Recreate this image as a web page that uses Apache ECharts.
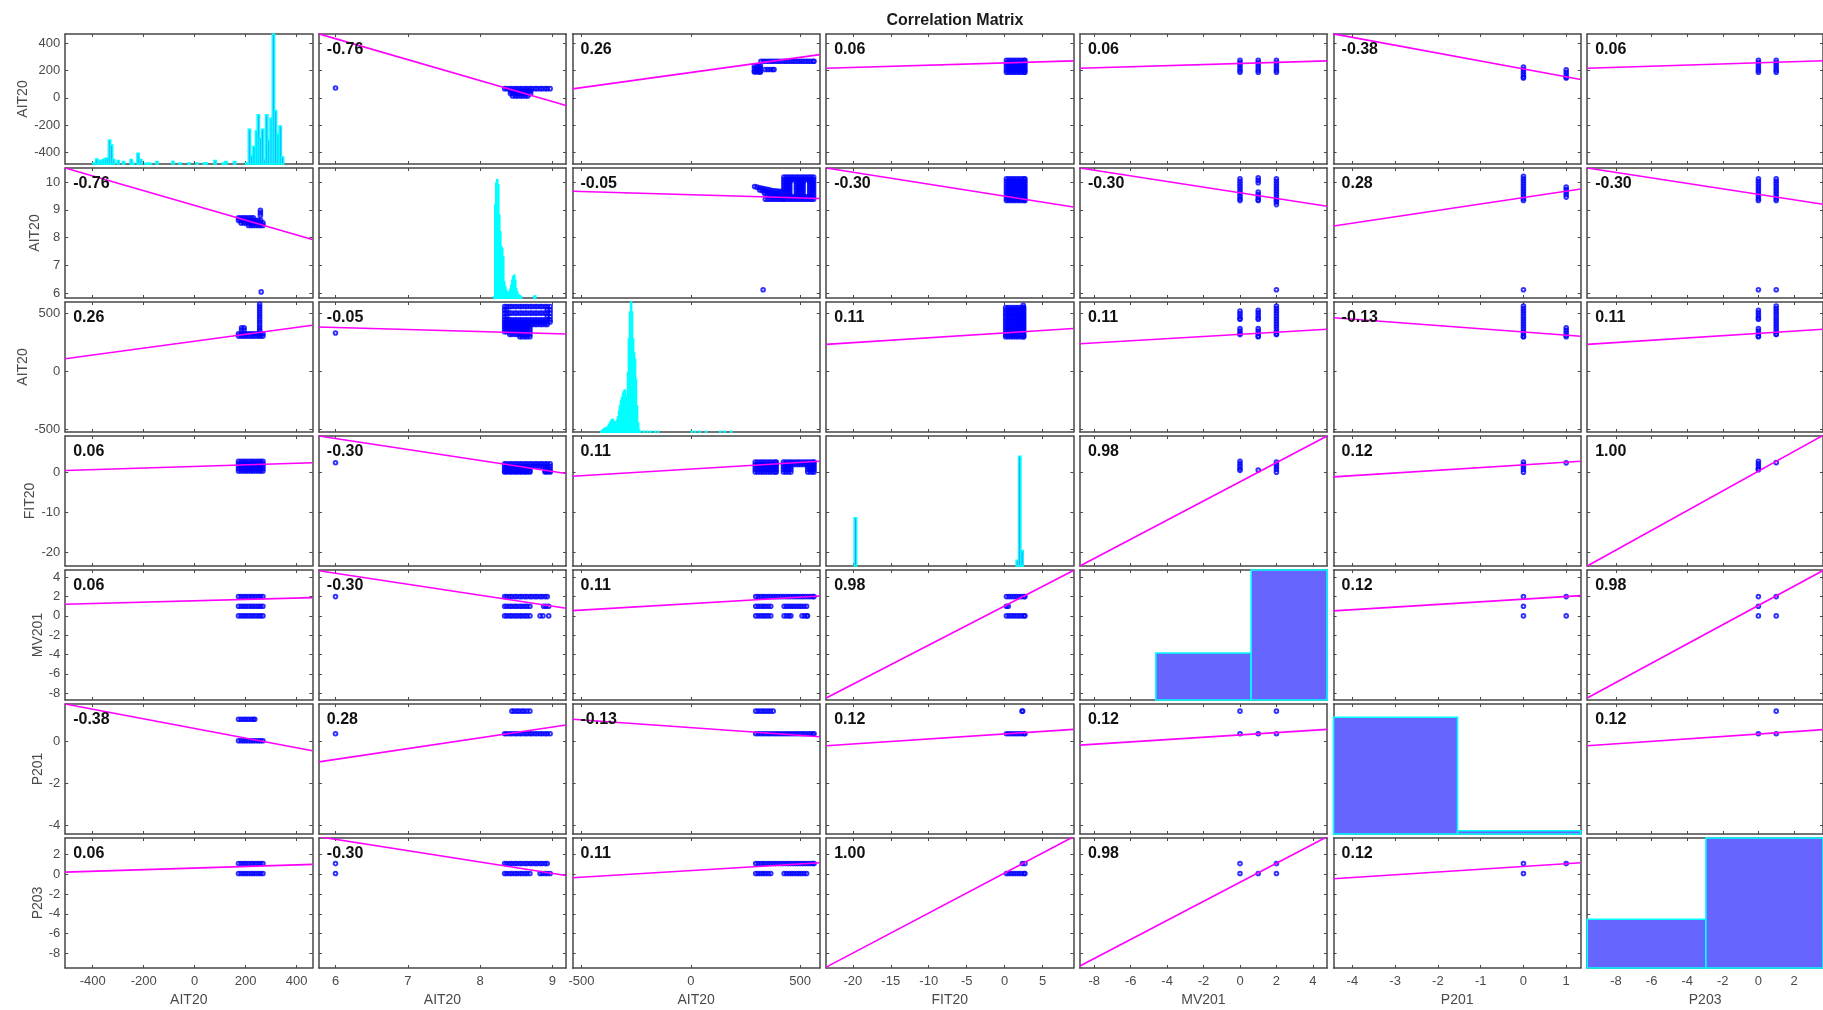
<!DOCTYPE html>
<html>
<head>
<meta charset="utf-8">
<title>Correlation Matrix</title>
<script src="https://cdn.jsdelivr.net/npm/echarts@6.0.0/dist/echarts.min.js"></script>
<style>
  html, body { margin: 0; padding: 0; background: #ffffff; }
  #chart { width: 1823px; height: 1010px; }
</style>
</head>
<body>
<div id="chart"></div>
<script>
// ---- variables, axis limits and ticks -------------------------------------
const varNames = ['AIT20', 'AIT20', 'AIT20', 'FIT20', 'MV201', 'P201', 'P203'];

const xLimits = [[-508, 462], [5.77, 9.19], [-541, 590], [-23.5, 9.05], [-8.79, 4.78], [-4.44, 1.34], [-9.62, 3.63]];
const yLimits = [[-482, 465], [5.82, 10.51], [-521, 600], [-23.4, 9.05], [-8.7, 4.75], [-4.4, 1.8], [-9.5, 3.7]];

const xTicks = [[-400, -200, 0, 200, 400], [6, 7, 8, 9], [-500, 0, 500], [-20, -15, -10, -5, 0, 5],
                [-8, -6, -4, -2, 0, 2, 4], [-4, -3, -2, -1, 0, 1], [-8, -6, -4, -2, 0, 2]];
const yTicks = [[-400, -200, 0, 200, 400], [6, 7, 8, 9, 10], [-500, 0, 500], [-20, -10, 0],
                [-8, -6, -4, -2, 0, 2, 4], [-4, -2, 0], [-8, -6, -4, -2, 0, 2]];

// ---- correlation coefficients ---------------------------------------------
const corrCoef = [
  [null, -0.76, 0.26, 0.06, 0.06, -0.38, 0.06],
  [-0.76, null, -0.05, -0.30, -0.30, 0.28, -0.30],
  [0.26, -0.05, null, 0.11, 0.11, -0.13, 0.11],
  [0.06, -0.30, 0.11, null, 0.98, 0.12, 1.00],
  [0.06, -0.30, 0.11, 0.98, null, 0.12, 0.98],
  [-0.38, 0.28, -0.13, 0.12, 0.12, null, 0.12],
  [0.06, -0.30, 0.11, 1.00, 0.98, 0.12, null]
];

// least-squares fit: y at the left and right x limit of each cell
const fitEnds = [
  [null, [466, -56], [65, 315], [215, 269], [215, 269], [466, 133], [215, 270]],
  [[10.51, 7.93], null, [9.67, 9.41], [10.51, 9.1], [10.51, 9.13], [8.42, 9.75], [10.51, 9.2]],
  [[110, 400], [385, 324], null, [235, 371], [240, 365], [464, 304], [235, 365]],
  [[0.43, 2.36], [9.05, -0.33], [-1.0, 2.76], null, [-23.4, 9.05], [-1.16, 2.76], [-23.4, 9.2]],
  [[1.2, 1.89], [4.67, 0.79], [0.55, 2.06], [-8.5, 4.7], null, [0.52, 2.1], [-8.5, 4.7]],
  [[1.8, -0.43], [-0.96, 0.8], [1.07, 0.24], [-0.19, 0.59], [-0.16, 0.59], null, [-0.19, 0.58]],
  [[0.23, 1.02], [3.83, -0.1], [-0.34, 1.18], [-9.41, 3.83], [-9.3, 3.83], [-0.44, 1.18], null]
];

// ---- histograms on the diagonal: [bin centre, count] ------------------------
const histAIT20a = [[-395, 3], [-384, 15], [-374, 10], [-366, 10], [-358, 13], [-350, 16], [-342, 18], [-334, 71],
  [-326, 56], [-318, 13], [-300, 10], [-279, 7], [-249, 13], [-241, 3], [-222, 32], [-211, 13], [-191, 2], [-183, 2],
  [-174, 2], [-148, 7], [-85, 7], [-57, 3], [-22, 3], [9, 3], [38, 3], [45, 3], [80, 10], [112, 3], [123, 7], [157, 7],
  [204, 3], [215, 103], [224, 25], [233, 52], [243, 98], [250, 146], [258, 78], [267, 103], [275, 13], [283, 146],
  [291, 71], [300, 136], [309, 386], [317, 158], [327, 88], [336, 113], [345, 21]];
const histAIT20b = [[8.197, 3], [8.211, 278], [8.225, 343], [8.238, 353], [8.252, 338], [8.266, 248], [8.280, 198],
  [8.294, 153], [8.307, 148], [8.321, 123], [8.335, 48], [8.349, 33], [8.363, 23], [8.376, 18], [8.390, 13],
  [8.404, 18], [8.418, 26], [8.432, 38], [8.445, 53], [8.459, 63], [8.473, 68], [8.487, 53], [8.501, 28],
  [8.514, 18], [8.528, 10], [8.542, 6], [8.556, 6], [8.570, 3], [8.749, 5], [8.763, 6]];
const histAIT20c = [[-410, 2], [-406, 4], [-401, 7], [-397, 9], [-392, 11], [-388, 12], [-383, 13], [-378, 17],
  [-374, 22], [-369, 27], [-365, 33], [-360, 37], [-356, 37], [-351, 31], [-347, 27], [-342, 30], [-337, 35],
  [-333, 45], [-328, 62], [-324, 77], [-319, 92], [-315, 102], [-310, 115], [-305, 122], [-301, 125], [-296, 107],
  [-292, 77], [-287, 177], [-283, 277], [-278, 357], [-273, 387], [-269, 357], [-264, 277], [-260, 237], [-255, 217],
  [-251, 157], [-246, 77], [-241, 27], [-237, 7], [-232, 2], [-215, 2], [-200, 2], [-185, 2], [-165, 2], [-150, 2],
  [5, 2], [20, 2], [40, 2], [70, 2], [135, 2], [155, 2], [185, 2]];
const histFIT20 = [[-19.66, 143], [1.67, 17], [1.98, 325], [2.29, 45]];
const histMV201 = [[-2.005, 36.1], [3.225, 100]];
const histP201 = [[-2.99, 89.8], [-0.09, 2.5]];
const histP203 = [[-6.285, 37.5], [0.385, 100]];
const histBinWidth = [8.6, 0.0138, 4.57, 0.31, 5.23, 2.9, 6.67];
const histCountTop = [386, 388, 387, 385, 100, 100, 100];

// ---- scatter samples ------------------------------------------------------
const row = (y, xs) => xs.map(x => [x, y]);
const col = (x, ys) => ys.map(y => [x, y]);

// spread of each variable along its dense band
const spreadAIT1 = [172, 182, 192, 201, 211, 221, 230, 240, 250, 259, 268];
const spreadAIT2 = [8.34, 8.37, 8.41, 8.44, 8.48, 8.51, 8.55, 8.58, 8.62, 8.65, 8.69, 8.72, 8.76, 8.79, 8.83, 8.86, 8.90, 8.93, 8.97];
const spreadAIT2lo = [8.34, 8.37, 8.41, 8.44, 8.48, 8.51, 8.55, 8.58, 8.62, 8.65, 8.69];
const spreadAIT3 = [297, 308, 320, 331, 342, 354, 365, 377, 388, 399, 411, 422, 434, 445, 456, 468, 479, 490, 502, 513, 524, 536, 547, 558, 564];
const spreadAIT3lo = [297, 308, 320, 331, 342, 354, 366];
const spreadAIT3hi = [427, 438, 450, 461, 472, 484, 495, 506, 518, 530];
const spreadFIT = [0.23, 0.56, 0.89, 1.22, 1.55, 1.88, 2.21, 2.54, 2.67];
const levelAIT1 = [273, 255, 237, 219, 201, 187];
const levelAIT2 = [10.12, 10.03, 9.94, 9.85, 9.76, 9.67, 9.58, 9.49, 9.40, 9.34];
const levelAIT3 = [566, 544, 522, 500, 478, 456, 434, 412, 390, 368, 346, 324, 320];
const loopFull = [426, 437, 449, 460, 471, 483, 494, 506, 517, 528, 540, 551, 562];
const loopSlit = [426, 437, 448, 453, 483, 494, 505, 514, 544, 555, 562];

const cell_1_2 = [
  ...row(67, spreadAIT2),
  ...row(49, [8.42, 8.45, 8.49, 8.52, 8.56, 8.59, 8.63, 8.66, 8.70]),
  ...row(31, [8.42, 8.45, 8.49, 8.52, 8.56, 8.59, 8.63, 8.66, 8.70]),
  ...row(13, [8.45, 8.49, 8.52, 8.56, 8.59, 8.63, 8.66]),
  [6.0, 72]
];
const cell_1_3 = [
  ...row(266, [321, 332, 343, 355, 366, 377, 389, 400, 411, 423, 434, 445, 457, 468, 479, 491, 502, 513, 525, 536, 547, 559, 564]),
  ...row(232, [291, 302, 313, 319]),
  ...row(214, [291, 302, 313, 319]),
  ...row(206, [341, 352, 364, 375, 381]),
  ...row(196, [291, 302, 313, 319]),
  ...row(188, [291, 302, 313, 319])
];
const cell_1_4 = levelAIT1.flatMap(y => row(y, spreadFIT));
const cell_1_5 = [...col(0, levelAIT1), ...col(1, levelAIT1), ...col(2, levelAIT1)];
const cell_1_6 = [...col(0, [224, 206, 188, 170, 152, 144]), ...col(1, [204, 186, 168, 150, 144])];
const cell_1_7 = [...col(0, levelAIT1), ...col(1, levelAIT1)];

const cell_2_1 = [
  ...row(8.71, [172, 182, 192, 201, 211, 221, 230]),
  ...row(8.62, [172, 182, 192, 201, 211, 221, 230, 240, 250, 259]),
  ...row(8.53, [182, 192, 201, 211, 221, 230, 240, 250, 259, 268]),
  ...row(8.44, [211, 221, 230, 240, 250, 259, 268]),
  ...col(258, [8.80, 8.89, 8.98]),
  [261, 6.04]
];
const cell_2_3 = [
  ...row(10.18, loopFull), ...row(10.09, loopFull),
  ...row(10.00, loopSlit), ...row(9.91, loopSlit), ...row(9.82, loopSlit),
  ...row(9.73, loopSlit), ...row(9.64, loopSlit), ...row(9.55, loopSlit),
  ...row(9.47, [364, 375, 386, 398, 409, 420, ...loopFull]),
  ...row(9.38, [341, 352, 364, 375, 386, 398, 409, 420, ...loopFull]),
  [292, 9.84], [303, 9.82], [315, 9.80], [326, 9.78], [337, 9.76], [349, 9.74], [360, 9.72], [371, 9.70],
  [383, 9.69], [394, 9.68], [405, 9.67], [415, 9.66],
  [315, 9.72], [326, 9.70], [337, 9.68], [349, 9.65], [360, 9.63], [371, 9.61], [383, 9.60], [394, 9.59],
  [405, 9.58], [415, 9.57],
  [337, 9.60], [349, 9.58], [360, 9.55], [371, 9.53], [383, 9.52], [394, 9.51], [405, 9.50], [415, 9.49],
  [331, 6.12]
];
const cell_2_4 = levelAIT2.flatMap(y => row(y, spreadFIT));
const cell_2_5 = [
  ...col(0, levelAIT2),
  ...col(1, [10.16, 10.07, 9.98, 9.64, 9.55, 9.46, 9.37, 9.34]),
  ...col(2, [...levelAIT2, 9.28, 9.19, 6.12])
];
const cell_2_6 = [
  ...col(0, [10.21, 10.12, 10.03, 9.94, 9.85, 9.76, 9.67, 9.58, 9.49, 9.40, 9.34, 6.12]),
  ...col(1, [9.82, 9.73, 9.64, 9.55, 9.46])
];
const cell_2_7 = [...col(0, [...levelAIT2, 6.12]), ...col(1, [...levelAIT2, 6.12])];

const cell_3_1 = [
  ...row(326, spreadAIT1), ...row(306, spreadAIT1),
  ...row(378, [184, 194]), ...row(358, [184, 194]),
  ...col(255, [581, 559, 537, 516, 494, 472, 450, 429, 407, 385, 363, 349])
];
const cell_3_2 = [
  ...row(561, spreadAIT2), ...row(504, spreadAIT2), ...row(447, spreadAIT2), ...row(427, spreadAIT2),
  ...row(407, [8.34, 8.37, 8.41, 8.44, 8.48, 8.51, 8.55, 8.58, 8.62, 8.65, 8.69, 8.72, 8.76, 8.79, 8.83, 8.86, 8.90, 8.93]),
  ...row(532, [8.34, 8.37, 8.93, 8.97]), ...row(475, [8.34, 8.37, 8.93, 8.97]),
  ...row(386, spreadAIT2lo), ...row(365, spreadAIT2lo), ...row(343, spreadAIT2lo),
  ...row(321, [8.41, 8.44, 8.48, 8.51, 8.55, 8.58, 8.62, 8.65, 8.69]),
  ...row(300, [8.55, 8.58, 8.62, 8.65, 8.69]),
  [6.0, 333]
];
const cell_3_4 = [
  ...[552, 530, 508, 487, 465, 443, 421, 400, 378, 356, 334, 313, 300]
    .flatMap(y => row(y, [0.13, 0.46, 0.79, 1.12, 1.45, 1.78, 2.11, 2.44, 2.51])),
  [2.44, 572]
];
const cell_3_5 = [
  ...col(0, [523, 501, 479, 457, 451, 372, 350, 328, 320]),
  ...col(1, [529, 507, 485, 463, 451, 372, 350, 328, 306, 300]),
  ...col(2, levelAIT3)
];
const cell_3_6 = [
  ...col(0, [566, 544, 522, 500, 478, 456, 434, 412, 390, 368, 346, 324, 302, 300]),
  ...col(1, [378, 356, 334, 312, 300])
];
const cell_3_7 = [...col(0, [529, 507, 485, 463, 451, 372, 350, 328, 306, 300]), ...col(1, levelAIT3)];

const cell_4_1 = [2.74, 2.11, 1.48, 0.85, 0.3].flatMap(y => row(y, spreadAIT1));
const cell_4_2 = [
  ...[2.13, 1.5, 0.87, 0.24, 0.05].flatMap(y => row(y, spreadAIT2lo)),
  ...row(2.13, [8.72, 8.76, 8.79, 8.83, 8.86, 8.90, 8.93, 8.97]),
  ...row(1.5, [8.72, 8.76, 8.79, 8.83, 8.86, 8.90, 8.93, 8.97]),
  ...[0.87, 0.24, 0.05].flatMap(y => row(y, [8.90, 8.93, 8.97])),
  [6.0, 2.36]
];
const cell_4_3 = [
  ...[2.57, 1.94, 1.31, 0.68, 0.05].flatMap(y => row(y, [295, 306, 318, 329, 340, 352, 363, 374, 386, 391])),
  ...row(2.57, [424, 435, 447, 458, 469, 481, 492, 503, 515, 526, 537, 549, 560, 564]),
  ...row(1.94, [424, 435, 447, 458, 469, 481, 492, 503, 515, 526, 537, 549, 560, 564]),
  ...[1.31, 0.68, 0.05].flatMap(y => row(y, [424, 435, 447, 458, 535, 546, 557, 564]))
];
const cell_4_5 = [...col(0, [2.74, 2.11, 1.48, 0.85, 0.48]), ...col(1, [0.55]), ...col(2, [2.57, 1.94, 1.31, 0.68, 0.03])];
const cell_4_6 = [...col(0, [2.57, 1.94, 1.31, 0.68, 0.03]), ...col(1, [2.35])];
const cell_4_7 = [...col(0, [2.74, 2.11, 1.48, 0.85, 0.63]), ...col(1, [2.4])];

const cell_5_1 = [...row(2, spreadAIT1), ...row(1, spreadAIT1), ...row(0, spreadAIT1)];
const cell_5_2 = [
  ...row(2, [8.34, 8.37, 8.41, 8.44, 8.48, 8.51, 8.55, 8.58, 8.62, 8.65, 8.69, 8.72, 8.76, 8.79, 8.83, 8.86, 8.90, 8.93]),
  ...row(1, [...spreadAIT2lo, 8.88, 8.91, 8.95]),
  ...row(0, [...spreadAIT2lo, 8.83, 8.87, 8.95]),
  [6.0, 2]
];
const cell_5_3 = [
  ...row(2, spreadAIT3),
  ...row(1, [...spreadAIT3lo, ...spreadAIT3hi]),
  ...row(0, [...spreadAIT3lo, 427, 438, 450, 458, 509, 520, 531, 534])
];
const cell_5_4 = [...row(2, spreadFIT), ...row(1, [0.23, 0.47]), ...row(0, spreadFIT)];
const cell_5_6 = [[0, 2], [0, 1], [0, 0], [1, 2], [1, 0]];
const cell_5_7 = [[0, 2], [0, 1], [0, 0], [1, 2], [1, 0]];

const cell_6_1 = [...row(1.07, [172, 182, 192, 201, 211, 221, 230, 236]), ...row(0.05, spreadAIT1)];
const cell_6_2 = [...row(1.46, [8.44, 8.47, 8.51, 8.54, 8.58, 8.61, 8.65, 8.69]), ...row(0.38, spreadAIT2), [6.0, 0.38]];
const cell_6_3 = [...row(1.46, [297, 308, 320, 331, 342, 354, 365, 377]), ...row(0.38, spreadAIT3)];
const cell_6_4 = [...row(1.46, [2.28, 2.37]), ...row(0.38, spreadFIT)];
const cell_6_5 = [[0, 1.46], [0, 0.38], [1, 0.38], [2, 1.46], [2, 0.38]];
const cell_6_7 = [[0, 0.38], [1, 1.46], [1, 0.38]];

const cell_7_1 = [...row(1.1, spreadAIT1), ...row(0.1, spreadAIT1)];
const cell_7_2 = [
  ...row(1.1, [8.34, 8.37, 8.41, 8.44, 8.48, 8.51, 8.55, 8.58, 8.62, 8.65, 8.69, 8.72, 8.76, 8.79, 8.83, 8.86, 8.90, 8.93]),
  ...row(0.1, [...spreadAIT2lo, 8.83, 8.86, 8.90, 8.93, 8.97]),
  [6.0, 1.1], [6.0, 0.1]
];
const cell_7_3 = [...row(1.1, spreadAIT3), ...row(0.1, [...spreadAIT3lo, ...spreadAIT3hi])];
const cell_7_4 = [...row(1.1, [2.33, 2.67]), ...row(0.1, spreadFIT)];
const cell_7_5 = [[0, 1.1], [0, 0.1], [1, 0.1], [2, 1.1], [2, 0.1]];
const cell_7_6 = [[0, 1.1], [0, 0.1], [1, 1.1]];

const cellPoints = [
  [null, cell_1_2, cell_1_3, cell_1_4, cell_1_5, cell_1_6, cell_1_7],
  [cell_2_1, null, cell_2_3, cell_2_4, cell_2_5, cell_2_6, cell_2_7],
  [cell_3_1, cell_3_2, null, cell_3_4, cell_3_5, cell_3_6, cell_3_7],
  [cell_4_1, cell_4_2, cell_4_3, null, cell_4_5, cell_4_6, cell_4_7],
  [cell_5_1, cell_5_2, cell_5_3, cell_5_4, null, cell_5_6, cell_5_7],
  [cell_6_1, cell_6_2, cell_6_3, cell_6_4, cell_6_5, null, cell_6_7],
  [cell_7_1, cell_7_2, cell_7_3, cell_7_4, cell_7_5, cell_7_6, null]
];
const histograms = [histAIT20a, histAIT20b, histAIT20c, histFIT20, histMV201, histP201, histP203];

// ---- layout and styling ---------------------------------------------------
const PANEL = { left: 65.2, top: 34, width: 247.2, height: 130, stepX: 253.67, stepY: 134 };
const FONT = '"Liberation Sans", Arial, Helvetica, sans-serif';
const BOX = '#474747';
const TICK_TEXT = '#4a4a4a';
const yNameGap = [34, 22.5, 34, 27, 20, 20, 20];

function axis(gridIndex, position, lim, ticks, withLabels, name, nameGap) {
  const vertical = position === 'left' || position === 'right';
  return {
    type: 'value', gridIndex, position, min: lim[0], max: lim[1],
    splitLine: { show: false },
    axisLine: { show: true, onZero: false, lineStyle: { color: BOX, width: 1.5 } },
    axisTick: { show: true, inside: true, length: 3, customValues: ticks, lineStyle: { color: BOX, width: 1 } },
    axisLabel: {
      show: withLabels, customValues: ticks, color: TICK_TEXT, fontSize: 13, fontFamily: FONT,
      margin: vertical ? 5 : 7
    },
    name, nameLocation: 'middle', nameGap, nameRotate: vertical ? 90 : 0,
    nameTextStyle: { color: TICK_TEXT, fontSize: 14, fontFamily: FONT },
    silent: true
  };
}

function renderBin(params, api) {
  const lo = api.coord([api.value(0), api.value(2)]);
  const hi = api.coord([api.value(1), 0]);
  const cs = params.coordSys;
  const shape = echarts.graphic.clipRectByRect(
    { x: lo[0], y: lo[1], width: hi[0] - lo[0], height: hi[1] - lo[1] },
    { x: cs.x, y: cs.y, width: cs.width, height: cs.height }
  );
  return shape && { type: 'rect', shape, style: { fill: '#6666ff', stroke: '#00ffff', lineWidth: 1.6 } };
}

const grids = [], xAxes = [], yAxes = [], series = [], texts = [];

for (let r = 0; r < 7; r++) {
  for (let c = 0; c < 7; c++) {
    const g = r * 7 + c;
    grids.push({
      left: PANEL.left + c * PANEL.stepX, top: PANEL.top + r * PANEL.stepY,
      width: PANEL.width, height: PANEL.height
    });
    xAxes.push(axis(g, 'bottom', xLimits[c], xTicks[c], r === 6, r === 6 ? varNames[c] : '', 25));
    xAxes.push(axis(g, 'top', xLimits[c], xTicks[c], false, '', 0));
    yAxes.push(axis(g, 'left', yLimits[r], yTicks[r], c === 0, c === 0 ? varNames[r] : '', yNameGap[r]));
    yAxes.push(axis(g, 'right', yLimits[r], yTicks[r], false, '', 0));
  }
}

for (let r = 0; r < 7; r++) {
  for (let c = 0; c < 7; c++) {
    const g = r * 7 + c;
    if (r === c) {
      // bar heights use their own hidden count scale
      const countAxis = yAxes.length;
      yAxes.push({ type: 'value', gridIndex: g, min: 0, max: histCountTop[r], show: false });
      const w = histBinWidth[r];
      series.push({
        type: 'custom', xAxisIndex: 2 * g, yAxisIndex: countAxis,
        data: histograms[r].map(([centre, n]) => [centre - w / 2, centre + w / 2, n]),
        encode: { x: [0, 1], y: 2 },
        renderItem: renderBin, silent: true, z: 2
      });
      continue;
    }
    series.push({
      type: 'scatter', xAxisIndex: 2 * g, yAxisIndex: 2 * g,
      data: cellPoints[r][c],
      symbol: 'circle', symbolSize: 3.6,
      itemStyle: { color: 'rgba(0,0,0,0)', borderColor: '#0000ff', borderWidth: 2 },
      silent: true, clip: true, z: 2
    });
    series.push({
      type: 'line', xAxisIndex: 2 * g, yAxisIndex: 2 * g,
      data: [[xLimits[c][0], fitEnds[r][c][0]], [xLimits[c][1], fitEnds[r][c][1]]],
      symbol: 'none', lineStyle: { color: '#ff00ff', width: 1.6 },
      silent: true, clip: true, z: 3
    });
    texts.push({
      type: 'text', z: 100,
      x: PANEL.left + c * PANEL.stepX + 8, y: PANEL.top + r * PANEL.stepY + 16,
      style: {
        text: corrCoef[r][c].toFixed(2), fill: '#111111',
        fontSize: 16, fontWeight: 'bold', fontFamily: FONT,
        textAlign: 'left', align: 'left', textVerticalAlign: 'middle', verticalAlign: 'middle'
      }
    });
  }
}

const chart = echarts.init(document.getElementById('chart'), null, { renderer: 'canvas', width: 1823, height: 1010 });
chart.setOption({
  animation: false,
  backgroundColor: '#ffffff',
  title: {
    text: 'Correlation Matrix', left: 950, top: 8, textAlign: 'center',
    textStyle: { fontSize: 16, fontWeight: 'bold', color: '#1a1a1a', fontFamily: FONT }
  },
  grid: grids,
  xAxis: xAxes,
  yAxis: yAxes,
  series,
  graphic: texts
});
</script>
</body>
</html>
